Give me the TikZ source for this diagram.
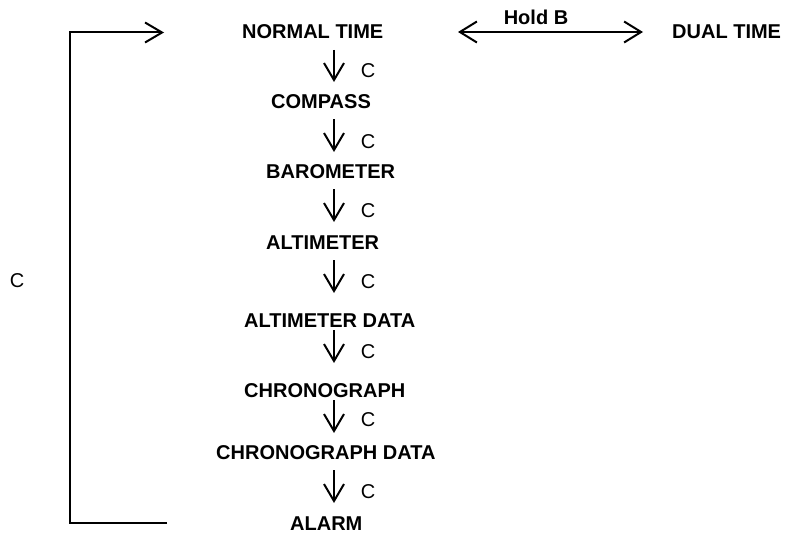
\documentclass[tikz,border=0pt]{standalone}
\usepackage{fontspec}
\setmainfont{Liberation Sans}
\usetikzlibrary{arrows.meta}
\begin{document}
\begin{tikzpicture}[x=1pt,y=-1pt,
  lbl/.style={font=\fontsize{20}{22}\selectfont\bfseries, inner sep=0pt, anchor=west},
  clbl/.style={font=\fontsize{20}{22}\selectfont, inner sep=0pt},
  arr/.style={line width=2pt, -{Straight Barb[length=17pt,width=20pt,line width=2pt]}},
  darr/.style={line width=2pt, {Straight Barb[length=17pt,width=21pt,line width=2pt]}-{Straight Barb[length=17pt,width=21pt,line width=2pt]}}]
\useasboundingbox (0,0) rectangle (787,535);
% mode labels
\node[lbl] (nt) at (242,32) {NORMAL TIME};
\node[lbl] (dt) at (672,32) {DUAL TIME};
\node[lbl] (cp) at (271,102) {COMPASS};
\node[lbl] (bm) at (266,172) {BAROMETER};
\node[lbl] (am) at (266,243) {ALTIMETER};
\node[lbl] (ad) at (244,321) {ALTIMETER DATA};
\node[lbl] (ch) at (244,391) {CHRONOGRAPH};
\node[lbl] (cd) at (216,453) {CHRONOGRAPH DATA};
\node[lbl] (al) at (290,524) {ALARM};
\node[font=\fontsize{20}{22}\selectfont\bfseries, inner sep=0pt] (hb) at (536,17) {Hold B};
% C labels
\node[clbl] (c1) at (368,71) {C};
\node[clbl] (c2) at (368,142) {C};
\node[clbl] (c3) at (368,211) {C};
\node[clbl] (c4) at (368,282) {C};
\node[clbl] (c5) at (368,352) {C};
\node[clbl] (c6) at (368,420) {C};
\node[clbl] (c7) at (368,492) {C};
\node[clbl] (c0) at (17,281) {C};
% arrow end points
\coordinate (a1s) at (334,50);  \coordinate (a1e) at (334,82);
\coordinate (a2s) at (334,119); \coordinate (a2e) at (334,152);
\coordinate (a3s) at (334,189); \coordinate (a3e) at (334,222);
\coordinate (a4s) at (334,260); \coordinate (a4e) at (334,293);
\coordinate (a5s) at (334,330); \coordinate (a5e) at (334,363);
\coordinate (a6s) at (334,400); \coordinate (a6e) at (334,433);
\coordinate (a7s) at (334,470); \coordinate (a7e) at (334,503);
\coordinate (hl) at (458,32); \coordinate (hr) at (643,32);
\coordinate (lb) at (167,523); \coordinate (lt) at (164,32.5);
\coordinate (cbl) at (70,523); \coordinate (ctl) at (70,32.5);
% connectors
\draw[arr] (a1s) -- (a1e);
\draw[arr] (a2s) -- (a2e);
\draw[arr] (a3s) -- (a3e);
\draw[arr] (a4s) -- (a4e);
\draw[arr] (a5s) -- (a5e);
\draw[arr] (a6s) -- (a6e);
\draw[arr] (a7s) -- (a7e);
\draw[darr] (hl) -- (hr);
\draw[arr, line join=miter] (lb) -- (cbl) -- (ctl) -- (lt);
\end{tikzpicture}
\end{document}
